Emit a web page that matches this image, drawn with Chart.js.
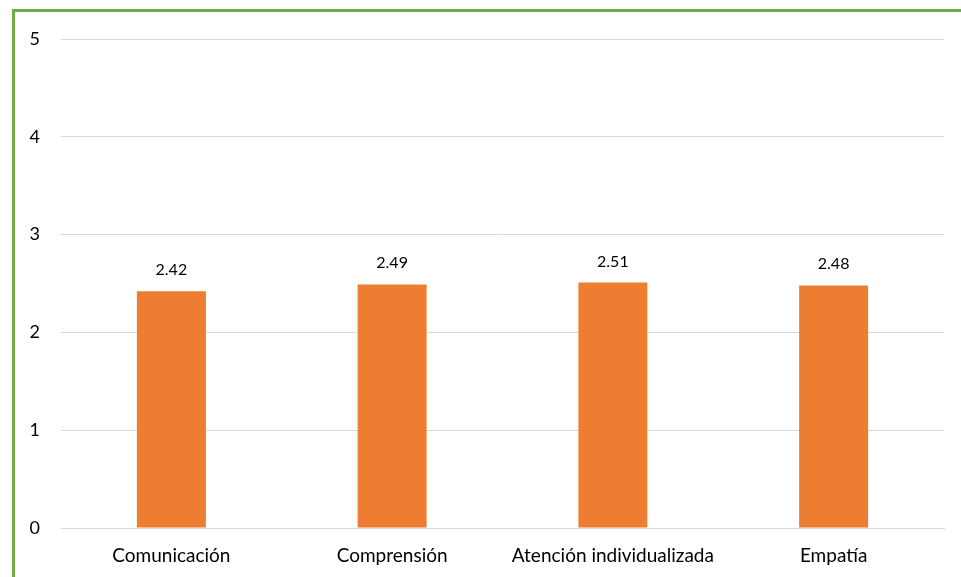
<!DOCTYPE html>
<html>
<head>
<meta charset="utf-8">
<script src="https://cdn.jsdelivr.net/npm/chart.js@4.4.0/dist/chart.umd.min.js"></script>
<style>
    html, body { margin: 0; padding: 0; background: #fff; }
    #wrap { position: relative; width: 961px; height: 577px; overflow: hidden; }
    #frame {
        position: absolute; left: 12px; top: 9px; width: 1000px; height: 600px;
        border-left: 3px solid #70AD47; border-top: 3px solid #70AD47;
    }
    canvas { position: absolute; left: 0; top: 0; }
</style>
</head>
<body>
<div id="wrap">
    <div id="frame"></div>
    <canvas id="chart" width="961" height="577"></canvas>
</div>
<script>
const categories = ['Comunicación', 'Comprensión', 'Atención individualizada', 'Empatía'];
const scores = [2.42, 2.49, 2.51, 2.48];
const yTicks = [0, 1, 2, 3, 4, 5];

const FONT = 'Lato, "Open Sans", sans-serif';

// draws the value above each bar
const valueLabels = {
    id: 'valueLabels',
    afterDatasetsDraw(chart) {
        const ctx = chart.ctx;
        const meta = chart.getDatasetMeta(0);
        ctx.save();
        ctx.font = '16px ' + FONT;
        ctx.fillStyle = '#000';
        ctx.textAlign = 'center';
        ctx.textBaseline = 'alphabetic';
        meta.data.forEach((bar, i) => {
            ctx.fillText(scores[i].toFixed(2), bar.x, bar.y - 16);
        });
        ctx.restore();
    }
};

new Chart(document.getElementById('chart').getContext('2d'), {
    type: 'bar',
    data: {
        labels: categories,
        datasets: [{
            data: scores,
            backgroundColor: '#ED7D31',
            barPercentage: 0.3125,
            categoryPercentage: 1
        }]
    },
    options: {
        responsive: false,
        animation: false,
        layout: { padding: { top: 39, right: 17, bottom: 12, left: 0 } },
        plugins: { legend: { display: false }, tooltip: { enabled: false } },
        scales: {
            x: {
                grid: { display: false, drawTicks: false },
                border: { display: true, color: '#D9D9D9' },
                ticks: { color: '#000', padding: 16, font: { family: FONT, size: 19 } },
                afterFit: (axis) => { axis.height = 37; }
            },
            y: {
                min: 0,
                max: 5,
                afterBuildTicks: (axis) => { axis.ticks = yTicks.map(v => ({ value: v })); },
                afterFit: (axis) => { axis.width = 61; },
                grid: { color: '#D9D9D9', drawTicks: false },
                border: { display: false },
                ticks: { color: '#000', padding: 21, font: { family: FONT, size: 18 } }
            }
        }
    },
    plugins: [valueLabels]
});
</script>
</body>
</html>
